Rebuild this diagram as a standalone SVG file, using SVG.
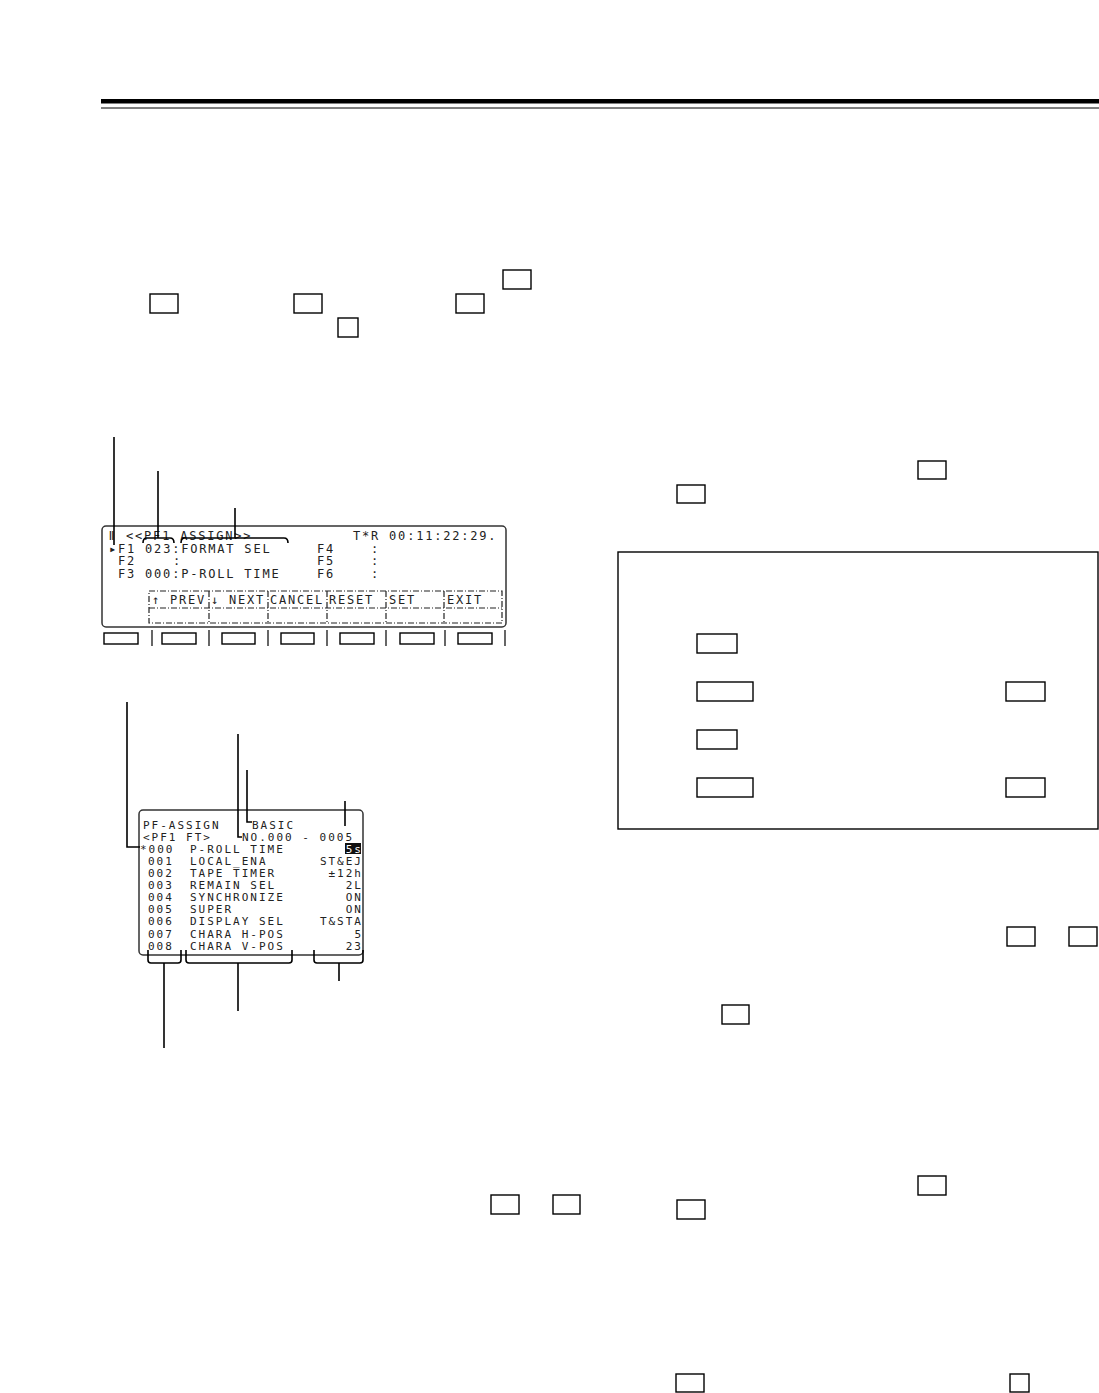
<svg xmlns="http://www.w3.org/2000/svg" width="1099" height="1393" viewBox="0 0 1099 1393">
<style>
.key{fill:none;stroke:#000;stroke-width:1.4}
.lead{fill:none;stroke:#000;stroke-width:1.6}
.scr{fill:none;stroke:#333;stroke-width:1.5}
.l1{font-family:"DejaVu Sans Mono","Liberation Mono",monospace;font-size:12px;letter-spacing:1.8px;fill:#222}
.l2{font-family:"DejaVu Sans Mono","Liberation Mono",monospace;font-size:11px;letter-spacing:2px;fill:#222}
.dd{fill:none;stroke:#222;stroke-width:1.2;stroke-dasharray:6 2 1 2}
</style>
<rect width="1099" height="1393" fill="#fff"/>
<g id="header">
<rect x="101" y="99" width="998" height="4.5" fill="#000"/>
<line x1="101" y1="108" x2="1099" y2="108" stroke="#000" stroke-width="1"/>
</g>
<g id="keys-top">
<rect class="key" x="503" y="270" width="28" height="19"/>
<rect class="key" x="150" y="294" width="28" height="19"/>
<rect class="key" x="294" y="294" width="28" height="19"/>
<rect class="key" x="456" y="294" width="28" height="19"/>
<rect class="key" x="338" y="318" width="20" height="19"/>
</g>
<g id="screen1">
<rect class="scr" x="102" y="526" width="404" height="101" rx="4"/>
<text class="l1" x="108" y="540">ǁ &lt;&lt;PF1 ASSIGN&gt;&gt;</text>
<text class="l1" x="353" y="540">T*R 00:11:22:29.</text>
<text class="l1" x="109" y="552.5">▸F1 023:FORMAT SEL</text>
<text class="l1" x="317" y="552.5">F4</text>
<text class="l1" x="371" y="552.5">:</text>
<text class="l1" x="118" y="565">F2</text>
<text class="l1" x="173" y="565">:</text>
<text class="l1" x="317" y="565">F5</text>
<text class="l1" x="371" y="565">:</text>
<text class="l1" x="118" y="578">F3 000:P-ROLL TIME</text>
<text class="l1" x="317" y="578">F6</text>
<text class="l1" x="371" y="578">:</text>
<rect class="dd" x="149" y="591" width="353" height="32"/>
<line class="dd" x1="149" y1="608" x2="502" y2="608"/>
<line class="dd" x1="209" y1="591" x2="209" y2="623"/>
<line class="dd" x1="268" y1="591" x2="268" y2="623"/>
<line class="dd" x1="327" y1="591" x2="327" y2="623"/>
<line class="dd" x1="386" y1="591" x2="386" y2="623"/>
<line class="dd" x1="444" y1="591" x2="444" y2="623"/>
<text class="l1" x="152" y="604">↑ PREV</text>
<text class="l1" x="211" y="604">↓ NEXT</text>
<text class="l1" x="270" y="604">CANCEL</text>
<text class="l1" x="329" y="604">RESET</text>
<text class="l1" x="389" y="604">SET</text>
<text class="l1" x="447" y="604">EXIT</text>
</g>
<g id="softkeys">
<rect class="key" x="104" y="633" width="34" height="11"/>
<rect class="key" x="162" y="633" width="34" height="11"/>
<rect class="key" x="222" y="633" width="33" height="11"/>
<rect class="key" x="281" y="633" width="33" height="11"/>
<rect class="key" x="340" y="633" width="34" height="11"/>
<rect class="key" x="400" y="633" width="34" height="11"/>
<rect class="key" x="458" y="633" width="34" height="11"/>
<g stroke="#000" stroke-width="1.2">
<line x1="152" y1="630" x2="152" y2="646"/>
<line x1="209" y1="630" x2="209" y2="646"/>
<line x1="268" y1="630" x2="268" y2="646"/>
<line x1="327" y1="630" x2="327" y2="646"/>
<line x1="386" y1="630" x2="386" y2="646"/>
<line x1="445" y1="630" x2="445" y2="646"/>
<line x1="505" y1="630" x2="505" y2="646"/>
</g>
</g>
<g id="screen2">
<rect class="scr" x="139" y="810" width="224" height="145" rx="4"/>
<text class="l2" x="143" y="829">PF-ASSIGN</text>
<text class="l2" x="252" y="829">BASIC</text>
<text class="l2" x="143" y="841">&lt;PF1 FT&gt;</text>
<text class="l2" x="242" y="841">NO.000 - 0005</text>
<text class="l2" x="140" y="853">*000</text>
<text class="l2" x="190" y="853">P-ROLL TIME</text>
<rect x="345" y="843" width="16" height="11" fill="#111"/>
<text class="l2" x="363" y="852.5" text-anchor="end" style="fill:#fff">5s</text>
<text class="l2" x="148" y="865">001</text><text class="l2" x="190" y="865">LOCAL_ENA</text><text class="l2" x="363" y="865" text-anchor="end">ST&amp;EJ</text>
<text class="l2" x="148" y="877">002</text><text class="l2" x="190" y="877">TAPE TIMER</text><text class="l2" x="363" y="877" text-anchor="end">±12h</text>
<text class="l2" x="148" y="889">003</text><text class="l2" x="190" y="889">REMAIN SEL</text><text class="l2" x="363" y="889" text-anchor="end">2L</text>
<text class="l2" x="148" y="901">004</text><text class="l2" x="190" y="901">SYNCHRONIZE</text><text class="l2" x="363" y="901" text-anchor="end">ON</text>
<text class="l2" x="148" y="913">005</text><text class="l2" x="190" y="913">SUPER</text><text class="l2" x="363" y="913" text-anchor="end">ON</text>
<text class="l2" x="148" y="925">006</text><text class="l2" x="190" y="925">DISPLAY SEL</text><text class="l2" x="363" y="925" text-anchor="end">T&amp;STA</text>
<text class="l2" x="148" y="938">007</text><text class="l2" x="190" y="938">CHARA H-POS</text><text class="l2" x="363" y="938" text-anchor="end">5</text>
<text class="l2" x="148" y="950">008</text><text class="l2" x="190" y="950">CHARA V-POS</text><text class="l2" x="363" y="950" text-anchor="end">23</text>
</g>
<g id="box-right">
<rect x="618" y="552" width="480" height="277" fill="none" stroke="#000" stroke-width="1.4"/>
<rect class="key" x="697" y="634" width="40" height="19"/>
<rect class="key" x="697" y="682" width="56" height="19"/>
<rect class="key" x="1006" y="682" width="39" height="19"/>
<rect class="key" x="697" y="730" width="40" height="19"/>
<rect class="key" x="697" y="778" width="56" height="19"/>
<rect class="key" x="1006" y="778" width="39" height="19"/>
</g>
<g id="keys-right">
<rect class="key" x="918" y="461" width="28" height="18"/>
<rect class="key" x="677" y="485" width="28" height="18"/>
<rect class="key" x="1007" y="927" width="28" height="19"/>
<rect class="key" x="1069" y="927" width="28" height="19"/>
<rect class="key" x="722" y="1005" width="27" height="19"/>
<rect class="key" x="918" y="1176" width="28" height="19"/>
<rect class="key" x="677" y="1200" width="28" height="19"/>
<rect class="key" x="491" y="1195" width="28" height="19"/>
<rect class="key" x="553" y="1195" width="27" height="19"/>
<rect class="key" x="676" y="1374" width="28" height="18"/>
<rect class="key" x="1010" y="1374" width="19" height="18"/>
</g>
<g id="connectors">
<line class="lead" x1="114" y1="437" x2="114" y2="545"/>
<line class="lead" x1="158" y1="471" x2="158" y2="538"/>
<path class="lead" d="M143,543 Q143,538 147,538 L170,538 Q174,538 174,543"/>
<line class="lead" x1="235" y1="508" x2="235" y2="538"/>
<path class="lead" d="M181,543 Q181,538 185,538 L284,538 Q288,538 288,543"/>
<path class="lead" d="M127,702 L127,847 L140,847"/>
<path class="lead" d="M238,734 L238,837 L242,837"/>
<path class="lead" d="M247,770 L247,822 L252,822"/>
<line class="lead" x1="345" y1="801" x2="345" y2="826"/>
<path class="lead" d="M148,950 L148,960 Q148,963 151,963 L178,963 Q181,963 181,960 L181,950"/>
<line class="lead" x1="164" y1="963" x2="164" y2="1048"/>
<path class="lead" d="M186,950 L186,960 Q186,963 189,963 L289,963 Q292,963 292,960 L292,950"/>
<line class="lead" x1="238" y1="963" x2="238" y2="1011"/>
<path class="lead" d="M314,950 L314,960 Q314,963 317,963 L360,963 Q363,963 363,960 L363,950"/>
<line class="lead" x1="339" y1="963" x2="339" y2="981"/>
</g>
</svg>
